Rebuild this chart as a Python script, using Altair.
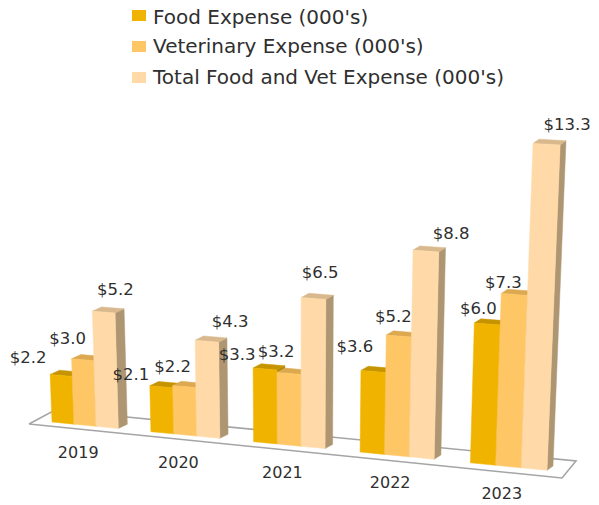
import altair as alt
import pandas as pd

years = ["2019", "2020", "2021", "2022", "2023"]
series = ["Food Expense (000's)", "Veterinary Expense (000's)", "Total Food and Vet Expense (000's)"]
food = [2.2, 2.1, 3.3, 3.6, 6.0]
vet = [3.0, 2.2, 3.2, 5.2, 7.3]
total = [5.2, 4.3, 6.5, 8.8, 13.3]
values = [food, vet, total]

front_colors = ["#F0B400", "#FFC666", "#FFDAA8"]
top_colors = ["#C69400", "#DDA950", "#D8B88C"]
side_colors = ["#A88400", "#B89050", "#AE9672"]

# label nudges from the bar's top-left corner, per series then per year
label_dx = [[-22, -19, -16, -6, 4], [-4, 0, -1, 7, 2], [23, 35, 19, 38, 34]]
label_dy = [[-16, -11, -13, -23, -14], [-20, -18.5, -20, -18, -10.5], [-21, -18, -24.4, -16, -18]]
legend_text_y = [17.5, 47, 77.7]

W, H = 583, 496
BAR = 0.225


def px(u):
    return 52 + 97 * u + 1.9 * u * u


def project(u, v, d=0):
    x0 = px(u)
    y0 = 422 + 0.0975 * (x0 - 52)
    h = v * (21.2 + 0.0028 * x0 + 0.13 * v)
    x = x0 + 1.6e-4 * (x0 - 295) * h
    y = y0 - h
    return x + (9.8 - 0.007 * x) * d, y - 4.2 * d


rows = []
fid = 0


def add(points, color):
    global fid
    fid += 1
    for k, (x, y) in enumerate(points + points[:1]):
        rows.append({"face": fid, "k": k, "x": x, "y": y, "c": color})


texts = []
for g, yr in enumerate(years):
    for s in range(3):
        v = values[s][g]
        u = g + s * BAR
        a = u + BAR
        add([project(a, 0), project(a, v), project(a, v, 1), project(a, 0, 1)], side_colors[s])
        add([project(u, v), project(a, v), project(a, v, 1), project(u, v, 1)], top_colors[s])
        add([project(u, 0), project(a, 0), project(a, v), project(u, v)], front_colors[s])
        tx, ty = project(u, v)
        texts.append({"x": tx + label_dx[s][g], "y": ty + label_dy[s][g], "t": f"${v:.1f}"})

year_rows = []
for g, yr in enumerate(years):
    cx = px(g + 0.34)
    year_rows.append({"x": cx - 7, "y": 422 + 0.0975 * (cx - 52) + 27.5, "t": yr})

floor_pts = [(29, 424), (562, 478), (576, 461), (55, 410), (29, 424)]
floor_df = pd.DataFrame([{"x": p[0], "y": p[1], "k": i} for i, p in enumerate(floor_pts)])

legend_rows = [
    {"x": 132, "x2": 146, "y": 10 + 31 * i, "y2": 21 + 31 * i, "tx": 153, "ty": legend_text_y[i], "t": series[i], "c": front_colors[i]}
    for i in range(3)
]

xs = alt.Scale(domain=[8, 8 + W], range=[0, W], nice=False, zero=False)
ys = alt.Scale(domain=[8, 8 + H], range=[0, H], nice=False, zero=False)
X = alt.X("x:Q", scale=xs, axis=None)
Y = alt.Y("y:Q", scale=ys, axis=None)

floor = alt.Chart(floor_df).mark_line(stroke="#A5A5A5", strokeWidth=1.6, fill="#FFFFFF").encode(X, Y, order="k:Q")

faces = alt.Chart(pd.DataFrame(rows)).mark_line(strokeWidth=0.5).encode(
    X, Y,
    detail="face:Q",
    order="k:Q",
    color=alt.Color("c:N", scale=None),
    fill=alt.Fill("c:N", scale=None),
)

FONT = "DejaVu Sans"
INK = "#2F2F2F"
labels = alt.Chart(pd.DataFrame(texts)).mark_text(font=FONT, fontSize=16.5, color=INK).encode(X, Y, text="t:N")
year_text = alt.Chart(pd.DataFrame(year_rows)).mark_text(font=FONT, fontSize=16, color=INK).encode(X, Y, text="t:N")

ldf = pd.DataFrame(legend_rows)
legend_sw = alt.Chart(ldf).mark_rect().encode(
    X, alt.X2("x2:Q"), Y, alt.Y2("y2:Q"), color=alt.Color("c:N", scale=None)
)
legend_tx = alt.Chart(ldf).mark_text(font=FONT, fontSize=20, color=INK, align="left").encode(
    alt.X("tx:Q", scale=xs, axis=None), alt.Y("ty:Q", scale=ys, axis=None), text="t:N"
)

chart = (
    alt.layer(floor, faces, labels, year_text, legend_sw, legend_tx)
    .properties(
        width=W,
        height=H,
        padding=0,
        autosize=alt.AutoSizeParams(type="none"),
    )
    .configure_view(stroke=None)
)
chart.save("out.html", embed_options={"renderer": "svg", "actions": False})
